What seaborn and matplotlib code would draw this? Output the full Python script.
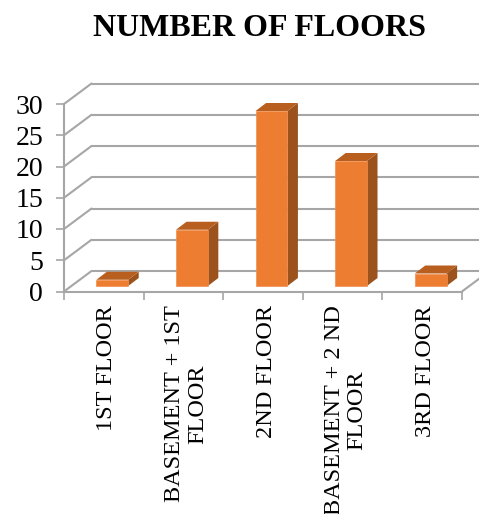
import matplotlib
matplotlib.use('Agg')
import matplotlib.pyplot as plt
import matplotlib.transforms as mtrans
from matplotlib.patches import Polygon
import pandas as pd
import seaborn as sns

categories = ['1ST FLOOR', 'BASEMENT + 1ST\nFLOOR', '2ND FLOOR', 'BASEMENT + 2 ND\nFLOOR', '3RD FLOOR']
counts = [1, 9, 28, 20, 2]
y_ticks = [0, 5, 10, 15, 20, 25, 30]

W, H = 479, 514
DPI = 100
GRID = '#a6a6a6'

sns.set_theme(style='white')
plt.rcParams['font.family'] = ['Liberation Serif', 'DejaVu Serif']

fig = plt.figure(figsize=(W / DPI, H / DPI), dpi=DPI)
# front plane of the fake 3d box, in pixels
left, right, bottom, top = 64, 462, 291.5, 104
ax = fig.add_axes([left / W, 1 - bottom / H, (right - left) / W, (bottom - top) / H])

df = pd.DataFrame({'floor': categories, 'count': counts})
sns.barplot(data=df, x='floor', y='count', color='#ed7d31', saturation=1, width=0.4, ax=ax, zorder=5)
ax.set_xlim(-0.5, len(categories) - 0.5)
ax.set_ylim(0, 30)

pixels = mtrans.IdentityTransform()


def shift(dx, dy):
    # offset in pixels on top of the data coords
    return ax.transData + mtrans.Affine2D().translate(dx, dy)


# back wall lines + diagonals on the left side
back_dx, back_dy = 27.5, 20.5
for v in y_ticks:
    ax.plot([-0.5, len(categories) - 0.5], [v, v], color=GRID, lw=1.5, transform=shift(back_dx, back_dy),
            clip_on=False, zorder=1)
    x0, y0 = ax.transData.transform((-0.5, v))
    ax.plot([x0, x0 + back_dx], [y0, y0 + back_dy], color=GRID, lw=1.5, transform=pixels, clip_on=False, zorder=1)

# floor right edge
x0, y0 = ax.transData.transform((len(categories) - 0.5, 0))
ax.plot([x0, x0 + back_dx], [y0, y0 + back_dy], color=GRID, lw=1.5, transform=pixels, clip_on=False, zorder=1)

# sides and tops of the bars
bar_dx, bar_dy = 8.5, 5.5
depth_x, depth_y = 10.5, 8
bar_tr = shift(bar_dx, bar_dy)
for bar in list(ax.patches):
    bar.set_transform(bar_tr)
    bar.set_edgecolor('#f08f4f')
    bar.set_linewidth(0.5)
    bar.set_clip_on(False)
    (x1, y1), (x2, y2) = bar_tr.transform([(bar.get_x(), bar.get_y()),
                                           (bar.get_x() + bar.get_width(), bar.get_height())])
    side = [(x2, y1), (x2 + depth_x, y1 + depth_y), (x2 + depth_x, y2 + depth_y), (x2, y2)]
    roof = [(x1, y2), (x1 + depth_x, y2 + depth_y), (x2 + depth_x, y2 + depth_y), (x2, y2)]
    ax.add_patch(Polygon(side, closed=True, facecolor='#9c521d', edgecolor='none',
                         transform=pixels, clip_on=False, zorder=4))
    ax.add_patch(Polygon(roof, closed=True, facecolor='#b85f20', edgecolor='none',
                         transform=pixels, clip_on=False, zorder=4))

for s in ['top', 'right']:
    ax.spines[s].set_visible(False)
for s in ['left', 'bottom']:
    ax.spines[s].set_color(GRID)
    ax.spines[s].set_linewidth(1.5)
ax.patch.set_alpha(0)

ax.set_yticks(y_ticks)
ax.set_yticklabels([str(v) for v in y_ticks], fontsize=20, color='black')
ax.tick_params(axis='y', left=True, length=6, width=1.2, color=GRID, pad=9)
ax.set_xticks(range(len(categories)))
ax.set_xticklabels(categories, rotation=90, fontsize=17.5, color='black', ha='center', va='top',
                   multialignment='center', linespacing=1.12)
ax.tick_params(axis='x', which='major', bottom=False, length=0, pad=10)
ax.set_xticks([i - 0.5 for i in range(len(categories) + 1)], minor=True)
ax.tick_params(axis='x', which='minor', bottom=True, length=6, width=1.2, color=GRID)
ax.set_xlabel('')
ax.set_ylabel('')
# rotated text sits a bit left of the tick, nudge it
for lab in ax.get_xticklabels():
    lab.set_transform(lab.get_transform() + mtrans.Affine2D().translate(3, 0))

fig.text(259.5 / W, 1 - 28 / H, 'NUMBER OF FLOORS', fontsize=23, fontweight='bold', color='black', ha='center', va='center')

fig.savefig('out.png', dpi=DPI)
